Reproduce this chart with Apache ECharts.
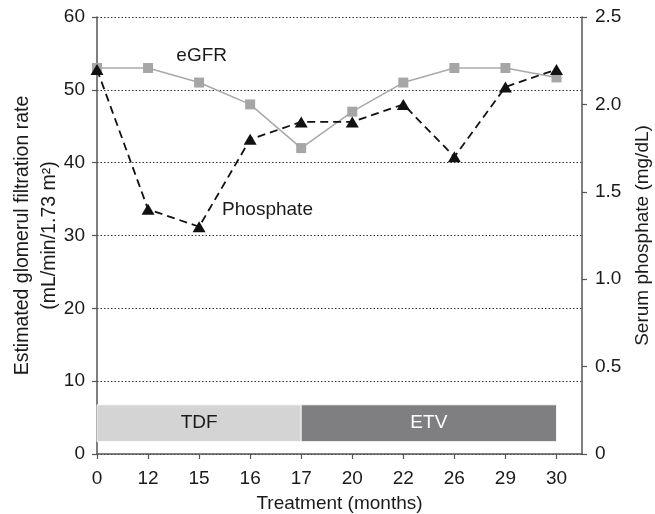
<!DOCTYPE html>
<html>
<head>
<meta charset="utf-8">
<script src="https://cdn.jsdelivr.net/npm/echarts@6/dist/echarts.min.js"></script>
<style>html,body{margin:0;padding:0;background:#fff}#c{width:655px;height:514px}</style>
</head>
<body>
<div id="c"></div>
<script>
var categories = ['0', '12', '15', '16', '17', '20', '22', '26', '29', '30'];
var egfr = [53, 53, 51, 48, 42, 47, 51, 53, 53, 51.7];
var phosphate = [2.2, 1.4, 1.3, 1.8, 1.9, 1.9, 2.0, 1.7, 2.1, 2.2];
var leftTicks = [0, 10, 20, 30, 40, 50, 60];
var rightTicks = [0, 0.5, 1.0, 1.5, 2.0, 2.5];
var phases = [
  {name: 'TDF', from: '0', to: '17'},
  {name: 'ETV', from: '17', to: '30'}
];

var FONT = '"Liberation Sans", Arial, Helvetica, sans-serif';
var idx = categories.map(function (_, i) { return i; });
var phaseColors = {TDF: '#d4d4d4', ETV: '#7f7f82'};
var phaseText = {TDF: '#1a1a1a', ETV: '#ffffff'};

function textLabel(txt) {
  return {show: true, formatter: txt, position: 'inside', fontFamily: FONT, fontSize: 19, color: '#1a1a1a'};
}

var chart = echarts.init(document.getElementById('c'), null, {renderer: 'canvas'});
chart.setOption({
  animation: false,
  backgroundColor: '#fff',
  grid: {left: 97, right: 73, top: 17, bottom: 60, containLabel: false, outerBoundsMode: 'none'},
  xAxis: {
    type: 'value', min: 0, max: 9.5, interval: 1,
    name: 'Treatment (months)', nameLocation: 'middle', nameGap: 40, nameMoveOverlap: false,
    nameTextStyle: {fontFamily: FONT, fontSize: 19, color: '#1a1a1a'},
    axisLine: {lineStyle: {color: '#555', width: 1.5}},
    axisTick: {show: true, length: 5, customValues: idx, lineStyle: {color: '#555', width: 1.2}},
    axisLabel: {customValues: idx, margin: 15, fontFamily: FONT, fontSize: 19, color: '#1a1a1a',
      formatter: function (v) { return categories[v] !== undefined ? categories[v] : ''; }},
    splitLine: {show: false}
  },
  yAxis: [{
    type: 'value', min: 0, max: 60, interval: 10,
    name: 'Estimated glomerul filtration rate\n(mL/min/1.73 m²)',
    nameLocation: 'middle', nameRotate: 90, nameGap: 34, nameMoveOverlap: false,
    nameTextStyle: {fontFamily: FONT, fontSize: 19.5, lineHeight: 27, color: '#1a1a1a', align: 'center'},
    axisLine: {show: true, lineStyle: {color: '#555', width: 1.5}},
    axisTick: {show: true, length: 5, lineStyle: {color: '#555', width: 1.2}},
    axisLabel: {margin: 12, fontFamily: FONT, fontSize: 19, color: '#1a1a1a',
      customValues: leftTicks},
    splitLine: {show: true, lineStyle: {color: '#333', width: 1.2, type: [1.5, 2]}}
  }, {
    type: 'value', min: 0, max: 2.5, interval: 0.5, position: 'right',
    name: 'Serum phosphate (mg/dL)', nameLocation: 'middle', nameRotate: 90, nameGap: 51, nameMoveOverlap: false,
    nameTextStyle: {fontFamily: FONT, fontSize: 19, color: '#1a1a1a'},
    axisLine: {show: true, lineStyle: {color: '#555', width: 1.5}},
    axisTick: {show: true, length: 5, lineStyle: {color: '#555', width: 1.2}},
    axisLabel: {margin: 13, fontFamily: FONT, fontSize: 19, color: '#1a1a1a',
      customValues: rightTicks,
      formatter: function (v) { return v === 0 ? '0' : v.toFixed(1); }},
    splitLine: {show: false}
  }],
  series: [{
    name: 'eGFR', type: 'line', yAxisIndex: 0, z: 3,
    data: egfr.map(function (v, i) { return [i, v]; }),
    symbol: 'rect', symbolSize: 10,
    lineStyle: {color: '#a9a9a9', width: 1.5},
    itemStyle: {color: '#a6a6a6'},
    markArea: {
      silent: true,
      data: phases.map(function (p) {
        return [{
          xAxis: categories.indexOf(p.from), yAxis: 1.7,
          itemStyle: {color: phaseColors[p.name], borderColor: '#fff', borderWidth: 0.8},
          label: {show: true, position: 'inside', formatter: p.name, fontFamily: FONT, fontSize: 19, color: phaseText[p.name]}
        }, {xAxis: categories.indexOf(p.to), yAxis: 6.75}];
      })
    },
    markPoint: {
      silent: true, symbol: 'circle', symbolSize: 2,
      itemStyle: {color: 'rgba(0,0,0,0)'},
      data: [{coord: [2.05, 54.7], value: 'eGFR', label: textLabel('eGFR')}]
    }
  }, {
    name: 'Phosphate', type: 'line', yAxisIndex: 1, z: 4,
    data: phosphate.map(function (v, i) { return [i, v]; }),
    symbol: 'triangle', symbolSize: [13, 11],
    lineStyle: {color: '#111', width: 1.8, type: [8, 5]},
    itemStyle: {color: '#111'},
    markPoint: {
      silent: true, symbol: 'circle', symbolSize: 2,
      itemStyle: {color: 'rgba(0,0,0,0)'},
      data: [{coord: [3.34, 1.395], value: 'Phosphate', label: textLabel('Phosphate')}]
    }
  }]
});
</script>
</body>
</html>
